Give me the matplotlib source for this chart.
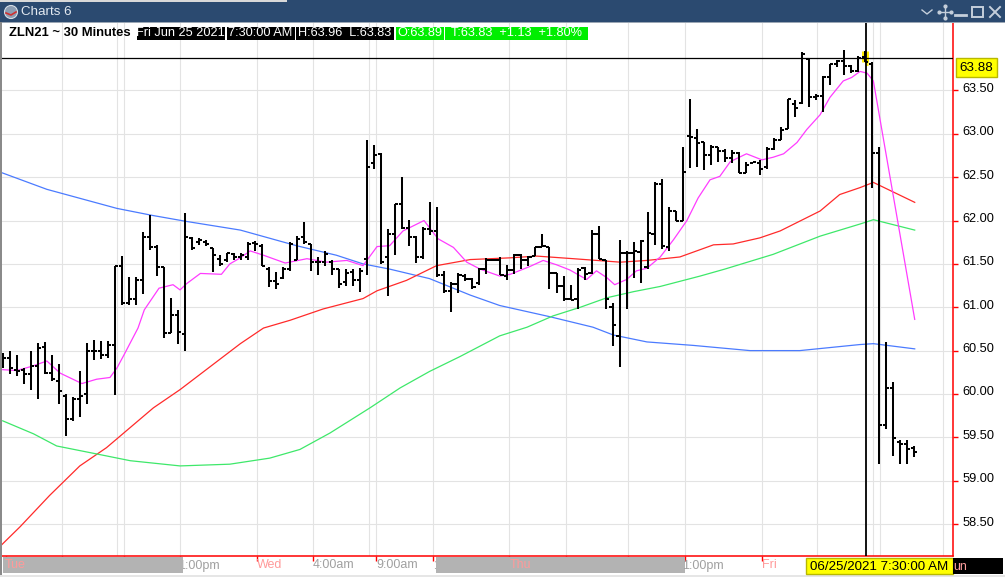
import matplotlib
matplotlib.use("Agg")
import matplotlib.pyplot as plt
import matplotlib.transforms as mtransforms
from matplotlib.collections import LineCollection
from matplotlib.patches import Rectangle, Circle

plt.rcParams['font.family'] = ['Liberation Sans', 'DejaVu Sans']

# ZLN21 30 minute OHLC bars
opens = [60.42, 60.41, 60.28, 60.28, 60.23, 60.32, 60.54, 60.24, 60.15, 59.98,
         59.71, 59.94, 60.00, 60.49, 60.49, 60.45, 60.57, 61.48, 61.05, 61.10,
         61.32, 61.81, 61.69, 61.47, 60.70, 60.91, 60.69, 61.80, 61.75, 61.75,
         61.68, 61.56, 61.55, 61.61, 61.58, 61.58, 61.74, 61.71, 61.44, 61.30,
         61.34, 61.44, 61.54, 61.81, 61.73, 61.52, 61.52, 61.52, 61.44, 61.29,
         61.41, 61.31, 61.56, 62.66, 62.77, 61.58, 61.84, 62.19, 61.91, 61.81,
         61.58, 61.90, 61.88, 61.37, 61.19, 61.27, 61.36, 61.33, 61.28, 61.44,
         61.55, 61.55, 61.36, 61.43, 61.60, 61.55, 61.59, 61.70, 61.70, 61.39,
         61.24, 61.09, 61.09, 61.45, 61.39, 61.85, 61.55, 61.00, 60.67, 61.62,
         61.63, 61.64, 61.47, 61.85, 62.42, 61.70, 62.11, 62.00, 62.98, 62.95,
         62.91, 62.76, 62.85, 62.80, 62.72, 62.78, 62.55, 62.66, 62.66, 62.62,
         62.83, 62.93, 63.06, 63.35, 63.36, 63.86, 63.42, 63.44, 63.65, 63.80,
         63.84, 63.78, 63.72, 63.89, 63.81, 62.78, 59.64, 60.07, 59.45, 59.42,
         59.38]
highs = [60.47, 60.49, 60.45, 60.30, 60.49, 60.59, 60.60, 60.45, 60.35, 60.00,
         59.96, 60.27, 60.59, 60.62, 60.61, 60.61, 61.48, 61.59, 61.35, 61.35,
         61.87, 62.06, 61.72, 61.47, 61.11, 60.97, 62.09, 61.81, 61.80, 61.77,
         61.68, 61.60, 61.63, 61.63, 61.62, 61.75, 61.76, 61.73, 61.46, 61.41,
         61.46, 61.75, 61.82, 61.98, 61.73, 61.58, 61.65, 61.54, 61.44, 61.44,
         61.44, 61.45, 62.93, 62.87, 62.78, 61.90, 62.19, 62.50, 62.01, 61.82,
         61.92, 62.21, 62.16, 61.42, 61.29, 61.40, 61.38, 61.34, 61.45, 61.57,
         61.56, 61.58, 61.49, 61.61, 61.61, 61.59, 61.70, 61.85, 61.70, 61.39,
         61.36, 61.26, 61.45, 61.47, 61.89, 61.94, 61.55, 61.05, 61.77, 61.65,
         61.75, 61.77, 62.10, 62.45, 62.48, 62.16, 62.11, 62.85, 63.40, 63.06,
         62.91, 62.87, 62.85, 62.83, 62.81, 62.79, 62.68, 62.68, 62.70, 62.85,
         62.95, 63.08, 63.40, 63.39, 63.94, 63.86, 63.46, 63.67, 63.81, 63.85,
         63.97, 63.79, 63.90, 63.96, 63.83, 62.85, 60.60, 60.14, 59.47, 59.47,
         59.40]
lows = [60.30, 60.23, 60.21, 60.11, 60.04, 59.94, 60.23, 60.15, 59.88, 59.52,
        59.69, 59.73, 59.88, 60.39, 60.40, 60.41, 59.99, 61.03, 61.03, 61.03,
        61.15, 61.66, 61.36, 60.64, 60.70, 60.58, 60.49, 61.66, 61.72, 61.71,
        61.41, 61.48, 61.52, 61.55, 61.55, 61.55, 61.65, 61.48, 61.23, 61.21,
        61.33, 61.42, 61.54, 61.73, 61.42, 61.37, 61.48, 61.37, 61.22, 61.25,
        61.25, 61.18, 61.37, 62.59, 61.50, 61.13, 61.60, 61.90, 61.71, 61.51,
        61.56, 61.83, 61.35, 61.17, 60.95, 61.16, 61.30, 61.21, 61.26, 61.38,
        61.53, 61.37, 61.32, 61.38, 61.44, 61.48, 61.59, 61.70, 61.21, 61.17,
        61.07, 61.08, 60.98, 61.32, 61.38, 61.56, 60.98, 60.55, 60.31, 60.98,
        61.34, 61.28, 61.44, 61.72, 61.67, 61.65, 62.00, 62.00, 62.61, 62.62,
        62.58, 62.64, 62.68, 62.68, 62.66, 62.55, 62.55, 62.66, 62.53, 62.60,
        62.81, 62.93, 63.06, 63.19, 63.35, 63.31, 63.39, 63.25, 63.56, 63.77,
        63.68, 63.70, 63.71, 63.83, 62.37, 59.19, 59.60, 59.28, 59.19, 59.19,
        59.27]
closes = [60.42, 60.30, 60.26, 60.23, 60.32, 60.53, 60.24, 60.17, 60.03, 59.71,
          59.94, 59.98, 60.50, 60.49, 60.45, 60.57, 61.48, 61.05, 61.10, 61.32,
          61.81, 61.69, 61.47, 60.70, 60.91, 60.72, 61.81, 61.68, 61.77, 61.73,
          61.60, 61.50, 61.62, 61.58, 61.60, 61.73, 61.73, 61.48, 61.30, 61.27,
          61.44, 61.73, 61.79, 61.75, 61.52, 61.52, 61.61, 61.44, 61.27, 61.40,
          61.31, 61.42, 62.62, 62.76, 61.52, 61.84, 62.19, 61.91, 61.81, 61.58,
          61.90, 61.88, 61.37, 61.19, 61.27, 61.37, 61.33, 61.23, 61.44, 61.55,
          61.54, 61.37, 61.43, 61.60, 61.55, 61.58, 61.69, 61.71, 61.40, 61.24,
          61.09, 61.08, 61.43, 61.38, 61.85, 61.56, 61.10, 60.79, 61.63, 61.63,
          61.65, 61.76, 61.86, 62.42, 61.71, 62.11, 62.00, 62.56, 62.96, 62.90,
          62.76, 62.85, 62.80, 62.72, 62.78, 62.55, 62.64, 62.67, 62.60, 62.83,
          62.93, 63.05, 63.40, 63.30, 63.92, 63.42, 63.44, 63.65, 63.80, 63.84,
          63.78, 63.72, 63.88, 63.83, 62.78, 59.64, 60.07, 59.49, 59.42, 59.37,
          59.33]

# moving averages, sampled along the bar index
fast_x = [0, 2, 4.2, 6.3, 8.2, 11.3, 13.4, 15.3, 16.3, 17.3, 19.3, 20.2, 22.3, 24.3,
          25.3, 26.2, 28.2, 31.2, 32.4, 33.9, 35.3, 37.2, 40.3, 43.4, 46.2, 49.1,
          51.4, 53.4, 55.2, 57.1, 60.1, 62.1, 64.3, 66.2, 68.1, 70.9, 72.4, 75.2,
          77.1, 79.0, 80.9, 83.3, 84.7, 86.2, 87.3, 89.0, 90.4, 91.9, 93.8, 95.7,
          97.6, 99.2, 100.9, 102.3, 103.8, 106.1, 108.3, 109.9, 111.4, 113.3,
          114.7, 116.6, 118.0, 119.9, 121.1, 122.3, 123.3, 124.2, 130.1]
fast_v = [60.28, 60.27, 60.32, 60.38, 60.24, 60.12, 60.17, 60.19, 60.30, 60.45,
          60.76, 60.97, 61.22, 61.26, 61.20, 61.27, 61.39, 61.38, 61.50, 61.57,
          61.65, 61.60, 61.51, 61.56, 61.52, 61.54, 61.48, 61.70, 61.71, 61.88,
          62.00, 61.79, 61.69, 61.52, 61.44, 61.36, 61.38, 61.47, 61.54, 61.49,
          61.43, 61.32, 61.42, 61.34, 61.26, 61.32, 61.42, 61.45, 61.58, 61.78,
          62.00, 62.26, 62.47, 62.51, 62.68, 62.77, 62.70, 62.73, 62.77, 62.90,
          63.05, 63.22, 63.42, 63.61, 63.65, 63.72, 63.70, 63.61, 60.86]
mid_x = [-0.4, 2.5, 6.7, 11.0, 14.8, 21.5, 25.3, 33.9, 37.2, 41.0, 45.7, 51.4, 53.4,
         57.6, 61.9, 66.7, 72.4, 76.2, 81.4, 88.1, 91.9, 96.6, 101.4, 104.2, 108.0,
         110.9, 116.6, 119.4, 122.3, 124.2, 130.1]
mid_v = [58.24, 58.47, 58.83, 59.17, 59.38, 59.84, 60.05, 60.58, 60.76, 60.85, 60.98,
         61.10, 61.19, 61.31, 61.48, 61.55, 61.57, 61.59, 61.56, 61.52, 61.54, 61.58,
         61.72, 61.73, 61.80, 61.88, 62.11, 62.30, 62.38, 62.44, 62.21]
slow_x = [0, 4.4, 7.7, 13.9, 18.2, 25.3, 32.4, 38.1, 42.4, 46.7, 52.4, 56.7, 60.9,
          65.2, 70.9, 74.8, 78.5, 82.4, 86.2, 90.0, 93.8, 99.5, 103.0, 109.9, 116.6,
          122.3, 124.2, 130.1]
slow_v = [59.69, 59.54, 59.40, 59.30, 59.23, 59.17, 59.19, 59.26, 59.36, 59.55,
          59.84, 60.07, 60.26, 60.43, 60.67, 60.77, 60.90, 61.00, 61.11, 61.18,
          61.24, 61.36, 61.44, 61.61, 61.82, 61.96, 62.01, 61.89]
long_x = [-0.4, 6.3, 16.3, 21.3, 26.2, 33.9, 41.9, 47.6, 51.4, 55.2, 60.9, 66.7,
          70.9, 78.1, 84.2, 87.1, 91.9, 98.5, 106.6, 113.7, 122.3, 124.2, 130.1]
long_v = [62.56, 62.36, 62.14, 62.06, 61.99, 61.89, 61.71, 61.60, 61.50, 61.44,
          61.33, 61.14, 61.02, 60.89, 60.77, 60.68, 60.60, 60.56, 60.50, 60.50,
          60.57, 60.58, 60.52]

price_ticks = [58.5, 59.0, 59.5, 60.0, 60.5, 61.0, 61.5, 62.0, 62.5, 63.0, 63.5]
time_ticks = [0.47, 8.42, 17.35, 25.34, 36.32, 44.27, 53.25, 61.38, 72.27, 80.36,
              89.24, 97.26, 108.27]
grid_x = [8.42, 16.35, 17.35, 25.34, 36.32, 44.27, 52.30, 53.25, 61.38, 72.27, 80.36,
          89.24, 97.26, 108.27, 116.2, 124.19, 125.14, 134.2]
day_labels = [(0.33, 'Tue'), (36.32, 'Wed'), (72.27, 'Thu'), (108.27, 'Fri')]
hour_labels = [(44.27, '4:00am'), (53.25, '9:00am'), (96.85, '1:00pm')]
hidden_labels = [(25.0, '1:00pm'), (61.38, '1:00pm')]
shaded_sessions = [(0.0, 25.75), (61.8, 97.3)]

cursor_bar = 123
cursor_price = 63.88
cursor_time = '06/25/2021 7:30:00 AM'

W, H = 1005, 577
fig = plt.figure(figsize=(W / 100, H / 100), dpi=100)
fig.patch.set_facecolor('white')

ax = fig.add_axes([0, 1 - 556 / H, 953 / W, (556 - 22) / H])
ax.set_xlim(-0.385, 135.56)
ax.set_ylim(58.131, 64.29)
ax.set_facecolor('white')

ov = fig.add_axes([0, 0, 1, 1], zorder=5)
ov.set_xlim(0, W)
ov.set_ylim(H, 0)
ov.axis('off')
ov.patch.set_alpha(0)

# grid
for p in price_ticks:
    ax.axhline(p, color='#e3e3e3', lw=0.8, zorder=0)
for g in grid_x:
    ax.axvline(g, color='#e3e3e3', lw=0.8, zorder=0)

# moving averages
ax.plot(long_x, long_v, color='#4b7bff', lw=0.9, zorder=2)
ax.plot(mid_x, mid_v, color='#ff2a2a', lw=0.9, zorder=2)
ax.plot(slow_x, slow_v, color='#3ee86a', lw=0.9, zorder=2)
ax.plot(fast_x, fast_v, color='#ff3cff', lw=0.9, zorder=2)

# OHLC bars
half = 0.45
segs = []
for i, (o, h, l, c) in enumerate(zip(opens, highs, lows, closes)):
    segs.append([(i, l), (i, h)])
    segs.append([(i - half, o), (i, o)])
    segs.append([(i, c), (i + half, c)])
hl = [[(cursor_bar, lows[cursor_bar]), (cursor_bar, highs[cursor_bar])],
      [(cursor_bar - half, opens[cursor_bar]), (cursor_bar, opens[cursor_bar])],
      [(cursor_bar, closes[cursor_bar]), (cursor_bar + half, closes[cursor_bar])]]
ax.add_collection(LineCollection(hl, colors='#ffee00', linewidths=5, zorder=3))
ax.add_collection(LineCollection(segs, colors='black', linewidths=1.45,
                                 capstyle='butt', zorder=4))

# cursor crosshair
ax.axhline(cursor_price, color='black', lw=0.9, zorder=5)
ax.axvline(cursor_bar + 0.15, color='black', lw=1.3, zorder=5)

# axes look
for s in ['left', 'top']:
    ax.spines[s].set_visible(False)
for s in ['bottom', 'right']:
    ax.spines[s].set_color('#ff0000')
    ax.spines[s].set_linewidth(1.1)
ax.yaxis.tick_right()
ax.set_yticks(price_ticks, labels=[f'{p:.2f}' for p in price_ticks])
ax.tick_params(axis='y', colors='#ff0000', labelcolor='black', length=3.6,
               width=1, pad=3.4, labelsize=9.2)
ax.set_xticks(time_ticks, labels=[])
ax.tick_params(axis='x', colors='#ff0000', length=3.6, width=1)
shift = mtransforms.ScaledTranslation(0, 3 / 100, fig.dpi_scale_trans)
for lab in ax.get_yticklabels():
    lab.set_transform(lab.get_transform() + shift)

# bottom time scale
bt = mtransforms.blended_transform_factory(ax.transData, ov.transData)
for x, t in hidden_labels:
    ov.text(x, 565.5, t, transform=bt, color='#a0a0a0', fontsize=9,
            ha='left', va='center', zorder=1)
for a, b in shaded_sessions:
    ov.add_patch(Rectangle((a, 557.3), b - a, 16, transform=bt,
                           facecolor='#b3b3b3', edgecolor='none', zorder=2))
for x, t in day_labels:
    ov.text(x, 565.5, t, transform=bt, color='#ff9a9a', fontsize=9,
            ha='left', va='center', zorder=3)
for x, t in hour_labels:
    ov.text(x, 565.5, t, transform=bt, color='#a0a0a0', fontsize=9,
            ha='left', va='center', zorder=3)
ov.add_patch(Rectangle((806, 558), 146.7, 16.3, facecolor='#ffff00',
                       edgecolor='#b8b800', lw=1, zorder=4))
ov.text(879, 566.5, cursor_time, color='black', fontsize=9.6, ha='center',
        va='center', zorder=5)
ov.add_patch(Rectangle((953, 558), 50, 16, facecolor='black', edgecolor='none', zorder=4))
ov.text(953.5, 566.5, 'un', color='#ff9f9f', fontsize=9, ha='left', va='center', zorder=5)
ov.add_patch(Rectangle((0, 575), W, 2, facecolor='#e6e6e6', edgecolor='none'))

# price flag
ov.add_patch(Rectangle((956, 58.3), 40.7, 19, facecolor='#ffff00',
                       edgecolor='#b8b800', lw=1))
ov.text(976.3, 68, f'{cursor_price:.2f}', color='black', fontsize=9.6,
        ha='center', va='center')

# window chrome
ov.add_patch(Rectangle((0, 0), W, 21.7, facecolor='#2b4a70', edgecolor='none'))
ov.add_patch(Rectangle((0, 0), 287, 2.3, facecolor='#d9d9d9', edgecolor='none'))
ov.add_patch(Rectangle((0, 21.7), W, 1, facecolor='#9aa6b4', edgecolor='none'))
ov.add_patch(Rectangle((0, 22), 2, 553, facecolor='#8a8a8a', edgecolor='none'))
ov.add_patch(Circle((11, 12), 6.5, facecolor='#8d9db2', edgecolor='#d6dde6', lw=0.8))
ov.plot([6, 11, 16], [13, 15, 12], color='#d03030', lw=1.2)
ov.text(21, 12, 'Charts 6', color='#e4eaf1', fontsize=9.6, ha='left', va='center')
icon = '#c5cfdb'
ov.plot([922, 927, 932], [10, 14, 10], color=icon, lw=1)
ov.plot([939, 951], [12, 12], color=icon, lw=1)
ov.plot([945, 945], [6, 18], color=icon, lw=1)
for dx, dy in [(0, -6), (0, 6), (-6, 0), (6, 0)]:
    ov.plot(945 + dx, 12 + dy, marker='o', ms=2, color=icon)
ov.plot([955, 966], [15, 15], color=icon, lw=2)
ov.add_patch(Rectangle((972, 7), 11, 10, facecolor='none', edgecolor=icon, lw=1.4))
ov.plot([990, 1000], [7, 17], color=icon, lw=1.4)
ov.plot([990, 1000], [17, 7], color=icon, lw=1.4)

# header line
ov.text(9, 33.3, 'ZLN21 ~ 30 Minutes', color='black', fontsize=9.35,
        fontweight='bold', ha='left', va='center')
header = [(136.7, 225.0, 'Fri Jun 25 2021', 'black'),
          (226.5, 294.7, '7:30:00 AM', 'black'),
          (296.0, 394.0, 'H:63.96  L:63.83', 'black'),
          (396.0, 444.0, 'O:63.89', '#00ee00'),
          (445.0, 587.5, 'T:63.83  +1.13  +1.80%', '#00ee00')]
for x0, x1, t, c in header:
    ov.add_patch(Rectangle((x0, 27), x1 - x0, 12.5, facecolor=c, edgecolor='none'))
    ov.text((x0 + x1) / 2, 33.5, t, color='white', fontsize=9.2, ha='center', va='center')

fig.savefig('out.png', dpi=100, facecolor='white')
